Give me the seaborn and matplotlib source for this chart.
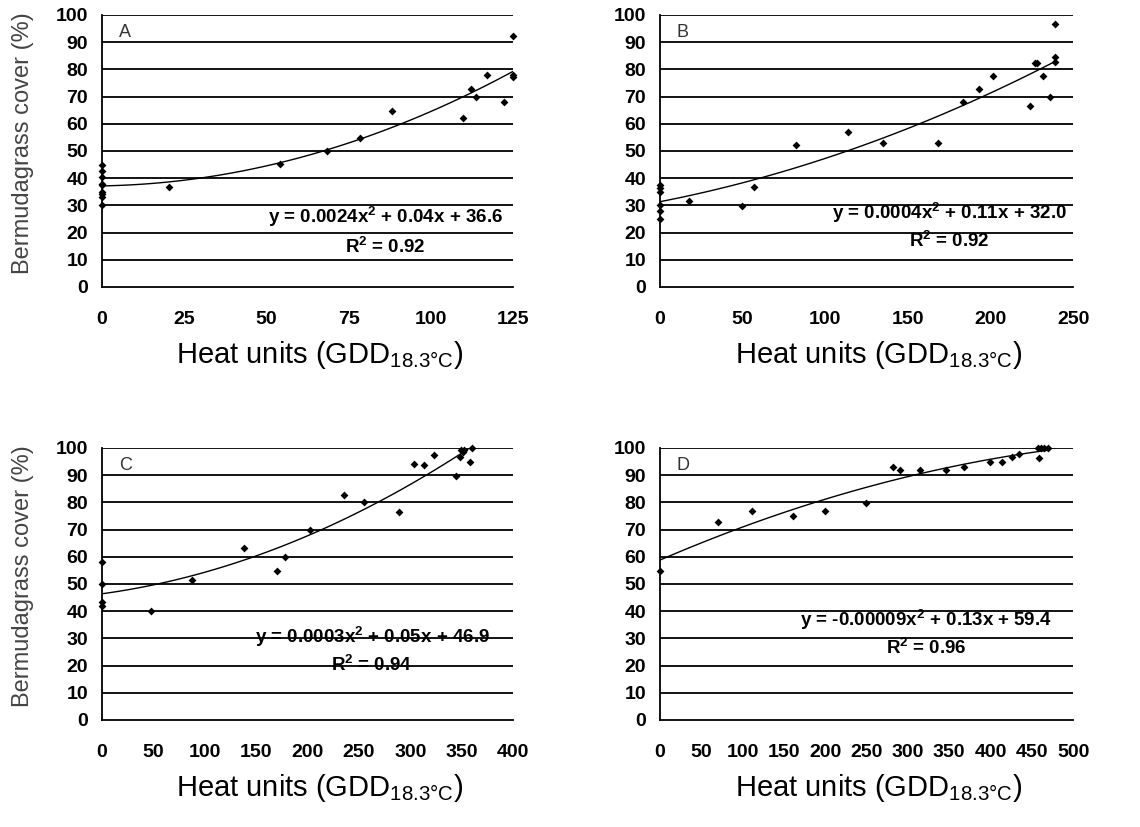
import pandas as pd
import matplotlib
matplotlib.use("Agg")
import matplotlib.pyplot as plt
import seaborn as sns

# panel A
a_x = [0, 0, 0, 0, 0, 0, 0, 0, 0, 20.4, 54, 68.5, 78.4, 88.2, 109.8, 112.3, 113.8, 117.2, 122.2, 125, 125, 125]
a_y = [45, 42.6, 40.4, 38, 37.5, 35, 34, 33, 30, 36.6, 45.2, 50, 54.8, 64.7, 62, 72.8, 70, 78, 68, 92.3, 78, 77]
# panel B
b_x = [0, 0, 0, 0, 0, 0, 17.6, 49.9, 56.7, 82, 114, 134.9, 168, 183.2, 193.3, 201.7, 224.1, 227.2, 228,
       231.8, 235.9, 238.9, 238.9, 238.9]
b_y = [37.5, 36.5, 35, 30, 28, 25, 31.7, 29.8, 36.6, 52.2, 56.9, 53, 53, 68.1, 72.8, 77.7, 66.6, 82.2, 82.2,
       77.7, 69.8, 96.7, 84.7, 82.8]
# panel C
c_x = [0, 0, 0, 0, 47.4, 87.9, 137.9, 170.3, 178.1, 202.4, 235.5, 254.7, 289, 303.3, 313, 323.1, 344.8,
       348, 349, 351, 352, 357.8, 360.4]
c_y = [58, 50, 43.5, 42, 40.1, 51.6, 63.3, 54.8, 59.9, 70, 82.6, 80, 76.6, 94.2, 93.6, 97.3, 89.7,
       96.7, 99.1, 98.5, 99.3, 94.9, 100]
# panel D
d_x = [0, 70.7, 111.5, 160.7, 200, 248.8, 281.9, 290.8, 315, 346, 367.5, 399.8, 414.4, 425.7, 434.6,
       458.8, 457, 461, 465, 470]
d_y = [54.9, 72.8, 76.8, 74.8, 76.8, 79.9, 92.9, 91.8, 91.8, 91.8, 92.9, 94.9, 94.9, 96.7, 97.9,
       96.3, 100, 100, 100, 100]

letters = ["A", "B", "C", "D"]
equations = ["y = 0.0024x$^2$ + 0.04x + 36.6",
             "y = 0.0004x$^2$ + 0.11x + 32.0",
             "y = 0.0003x$^2$ + 0.05x + 46.9",
             "y = -0.00009x$^2$ + 0.13x + 59.4"]
r2_labels = ["R$^2$ = 0.92", "R$^2$ = 0.92", "R$^2$ = 0.94", "R$^2$ = 0.96"]
x_max = [125, 250, 400, 500]
x_step = [25, 50, 50, 50]

sns.set_style("white")
plt.rcParams["font.family"] = ["Liberation Sans", "DejaVu Sans"]
plt.rcParams["mathtext.default"] = "regular"
plt.rcParams["text.color"] = "black"

fig = plt.figure(figsize=(11.4, 8.27), dpi=100)
positions = [[0.0895, 0.653, 0.3605, 0.329],
             [0.579, 0.653, 0.3623, 0.329],
             [0.0895, 0.1294, 0.3605, 0.329],
             [0.579, 0.1294, 0.3623, 0.329]]
eq_pos = [(0.689, 0.257, 0.147), (0.70, 0.272, 0.169), (0.657, 0.305, 0.202), (0.644, 0.368, 0.265)]

panels = [(a_x, a_y), (b_x, b_y), (c_x, c_y), (d_x, d_y)]
for i, (xs, ys) in enumerate(panels):
    ax = fig.add_axes(positions[i])
    df = pd.DataFrame({"x": xs, "y": ys})
    for v in range(10, 101, 10):
        ax.axhline(v, color="black", lw=1.3, zorder=1)
    sns.regplot(data=df, x="x", y="y", order=2, ci=None, scatter=False, ax=ax,
                line_kws={"color": "black", "lw": 1.0, "zorder": 3})
    sns.scatterplot(data=df, x="x", y="y", marker="D", s=16, color="black",
                    edgecolor="black", linewidth=0, ax=ax, zorder=4, clip_on=False)
    ax.set_xlim(0, x_max[i])
    ax.set_ylim(0, 100)
    ax.set_xticks(range(0, x_max[i] + 1, x_step[i]))
    ax.set_yticks(range(0, 101, 10))
    ax.tick_params(axis="both", direction="out", length=6, width=1.2, color="black",
                   labelcolor="black", labelsize=14, pad=4)
    ax.tick_params(axis="x", pad=11)
    for lab in ax.get_xticklabels() + ax.get_yticklabels():
        lab.set_fontweight("bold")
    for side in ["top", "right"]:
        ax.spines[side].set_visible(False)
    for side in ["left", "bottom"]:
        ax.spines[side].set_color("black")
        ax.spines[side].set_linewidth(1.3)
        ax.spines[side].set_zorder(5)

    ax.set_xlabel("Heat units (GDD$_{18.3°C}$)", fontsize=21, color="black")
    ax.xaxis.set_label_coords(0.53, -0.19)
    if i % 2 == 0:
        ax.set_ylabel("Bermudagrass cover (%)", fontsize=17, color="#444444")
        ax.yaxis.set_label_coords(-0.165, 0.53)
    else:
        ax.set_ylabel("")

    ax.text(0.041, 0.934, letters[i], transform=ax.transAxes, fontsize=13,
            color="#333333", ha="left", va="center")
    ex, ey, ry = eq_pos[i]
    ax.text(ex, ey, equations[i], transform=ax.transAxes, fontsize=13.5,
            fontweight="bold", color="black", ha="center", va="center", zorder=6)
    ax.text(ex, ry, r2_labels[i], transform=ax.transAxes, fontsize=13.5,
            fontweight="bold", color="black", ha="center", va="center", zorder=6)

fig.savefig("out.png", dpi=100)
